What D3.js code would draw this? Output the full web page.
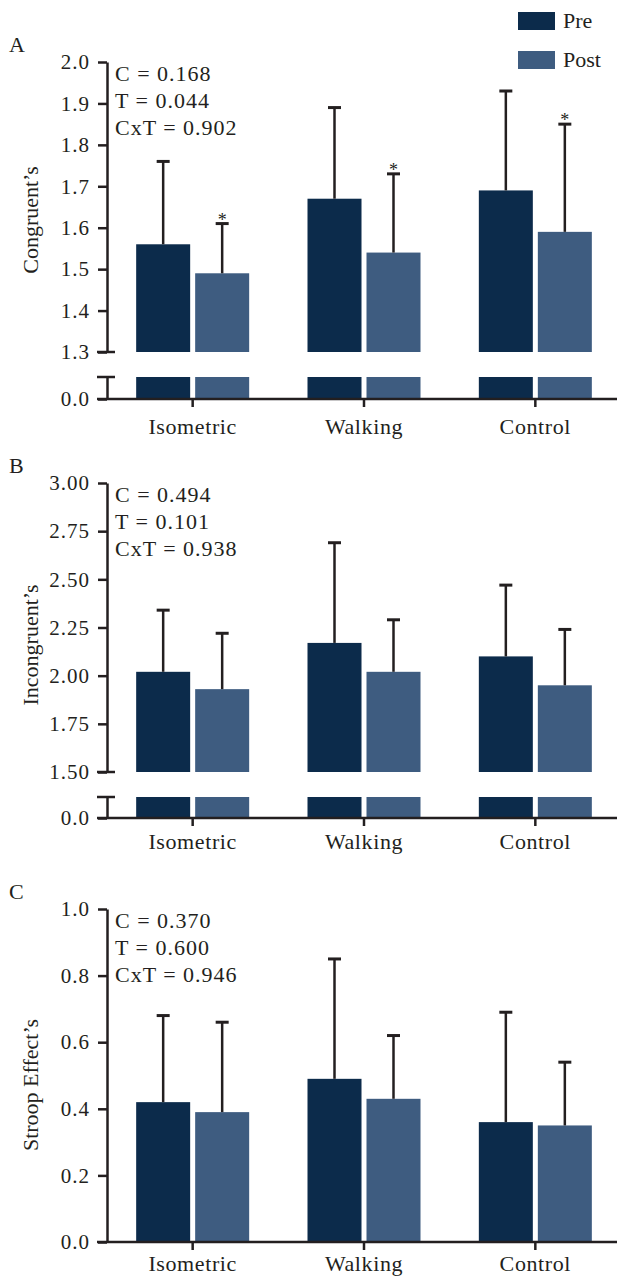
<!DOCTYPE html>
<!-- three stacked bar charts (pre / post) with broken y axes -->
<html>
<head>
<meta charset="utf-8">
<style>
  body { margin: 0; background: #fff; }
  svg text { font-family: "Liberation Serif", "DejaVu Serif", serif; fill: #231f20; }
</style>
</head>
<body>
<div id="chart_div"></div>

<script src="https://d3js.org/d3.v7.min.js"></script>

<script>

// data
let groups = ["Isometric", "Walking", "Control"];
let series = ["Pre", "Post"];
let series_colors = ["#0c2b4b", "#3e5c80"];

let congruent_pre = [1.56, 1.67, 1.69];
let congruent_pre_sd = [0.20, 0.22, 0.24];
let congruent_post = [1.49, 1.54, 1.59];
let congruent_post_sd = [0.12, 0.19, 0.26];
let congruent_stats = ["C = 0.168", "T = 0.044", "CxT = 0.902"];
let congruent_ticks = [1.3, 1.4, 1.5, 1.6, 1.7, 1.8, 1.9, 2.0];

let incongruent_pre = [2.02, 2.17, 2.10];
let incongruent_pre_sd = [0.32, 0.52, 0.37];
let incongruent_post = [1.93, 2.02, 1.95];
let incongruent_post_sd = [0.29, 0.27, 0.29];
let incongruent_stats = ["C = 0.494", "T = 0.101", "CxT = 0.938"];
let incongruent_ticks = [1.50, 1.75, 2.00, 2.25, 2.50, 2.75, 3.00];

let stroop_pre = [0.42, 0.49, 0.36];
let stroop_pre_sd = [0.26, 0.36, 0.33];
let stroop_post = [0.39, 0.43, 0.35];
let stroop_post_sd = [0.27, 0.19, 0.19];
let stroop_stats = ["C = 0.370", "T = 0.600", "CxT = 0.946"];
let stroop_ticks = [0.0, 0.2, 0.4, 0.6, 0.8, 1.0];

// significance markers on post bars (panel A only)
let congruent_post_star = [true, true, true];

let width = 617, height = 1278;
let axis_x = 107;
let ink = "#231f20";

let svg = d3.select("#chart_div")
  .append("svg")
    .attr("width", width)
    .attr("height", height);

// shared x scale
let x = d3.scaleBand()
  .domain(groups)
  .range([axis_x, 621])
  .padding(0);

let bar_w = 54, bar_gap = 5;

function draw_panel(p) {
  let g = svg.append("g").attr("class", "panel");

  let y = d3.scaleLinear()
    .domain([p.ticks[0], p.ticks[p.ticks.length - 1]])
    .range([p.low_y, p.top_y]);

  // rows for bars
  let rows = [];
  groups.forEach(function(name, i) {
    rows.push({group: name, s: 0, v: p.pre[i], sd: p.pre_sd[i], star: false});
    rows.push({group: name, s: 1, v: p.post[i], sd: p.post_sd[i], star: p.post_star ? p.post_star[i] : false});
  });
  let bx = function(d) {
    let c = x(d.group) + x.bandwidth() / 2;
    return d.s == 0 ? c - bar_gap / 2 - bar_w : c + bar_gap / 2;
  };

  // upper bars
  g.selectAll(".bar_up")
    .data(rows)
    .enter()
    .append("rect")
      .attr("x", bx)
      .attr("y", function(d) { return y(d.v); })
      .attr("width", bar_w)
      .attr("height", function(d) { return y(p.ticks[0]) - y(d.v); })
      .attr("fill", function(d) { return series_colors[d.s]; });

  // error bars
  let ex = function(d) { return bx(d) + bar_w / 2; };
  g.selectAll(".err")
    .data(rows)
    .enter()
    .append("line")
      .attr("x1", ex).attr("x2", ex)
      .attr("y1", function(d) { return y(d.v); })
      .attr("y2", function(d) { return y(d.v + d.sd); })
      .attr("stroke", ink).attr("stroke-width", 2.5);
  g.selectAll(".cap")
    .data(rows)
    .enter()
    .append("line")
      .attr("x1", function(d) { return ex(d) - 6.5; })
      .attr("x2", function(d) { return ex(d) + 6.5; })
      .attr("y1", function(d) { return y(d.v + d.sd); })
      .attr("y2", function(d) { return y(d.v + d.sd); })
      .attr("stroke", ink).attr("stroke-width", 3);
  g.selectAll(".star")
    .data(rows.filter(function(d) { return d.star; }))
    .enter()
    .append("text")
      .attr("x", ex)
      .attr("y", function(d) { return y(d.v + d.sd) + 2; })
      .attr("text-anchor", "middle")
      .attr("font-size", 18)
      .text("*");

  // y axis (upper part)
  let y_axis = g.append("g")
    .attr("transform", "translate(" + axis_x + ",0)")
    .call(d3.axisLeft(y).tickValues(p.ticks).tickFormat(d3.format(p.fmt))
      .tickSize(9).tickSizeOuter(0).tickPadding(8));
  y_axis.selectAll(".domain, line").attr("stroke", ink).attr("stroke-width", 2.5);
  y_axis.selectAll("text").attr("font-size", 21).attr("letter-spacing", 1)
    .attr("font-family", "Liberation Serif").attr("fill", ink);

  let zero_y = p.low_y;
  if (p.broken) {
    zero_y = p.zero_y;
    // cap on the upper segment
    g.append("line")
      .attr("x1", axis_x - 10).attr("x2", axis_x + 8)
      .attr("y1", p.low_y).attr("y2", p.low_y)
      .attr("stroke", ink).attr("stroke-width", 2.5);

    // lower segment: just the zero
    let y_low = d3.scaleLinear().domain([0, 1]).range([p.zero_y, p.brk_y]);
    g.selectAll(".bar_low")
      .data(rows)
      .enter()
      .append("rect")
        .attr("x", bx)
        .attr("y", y_low(1))
        .attr("width", bar_w)
        .attr("height", y_low(0) - y_low(1))
        .attr("fill", function(d) { return series_colors[d.s]; });
    let low_axis = g.append("g")
      .attr("transform", "translate(" + axis_x + ",0)")
      .call(d3.axisLeft(y_low).tickValues([0]).tickFormat(d3.format(".1f"))
        .tickSize(9).tickSizeOuter(0).tickPadding(8));
    low_axis.selectAll(".domain, line").attr("stroke", ink).attr("stroke-width", 2.5);
    low_axis.selectAll("text").attr("font-size", 21).attr("letter-spacing", 1)
      .attr("font-family", "Liberation Serif").attr("fill", ink);
    g.append("line")
      .attr("x1", axis_x - 10).attr("x2", axis_x + 8)
      .attr("y1", p.brk_y).attr("y2", p.brk_y)
      .attr("stroke", ink).attr("stroke-width", 2.5);
  }

  // x axis
  let x_axis = g.append("g")
    .attr("transform", "translate(0," + zero_y + ")")
    .call(d3.axisBottom(x).tickSize(8).tickSizeOuter(0).tickPadding(p.x_pad));
  x_axis.select(".domain").remove();
  x_axis.selectAll("line").attr("stroke", ink).attr("stroke-width", 2.5);
  x_axis.selectAll("text").attr("font-size", 22).attr("letter-spacing", 0.6)
    .attr("font-family", "Liberation Serif").attr("fill", ink);
  g.append("line")
    .attr("x1", axis_x - 10).attr("x2", width)
    .attr("y1", zero_y).attr("y2", zero_y)
    .attr("stroke", ink).attr("stroke-width", 2.5);

  // y title
  g.append("text")
    .attr("transform", "translate(38," + p.title_y + ") rotate(-90)")
    .attr("text-anchor", "middle")
    .attr("font-size", 22)
    .text(p.title);

  // panel letter
  g.append("text")
    .attr("x", 9)
    .attr("y", p.top_y - 10)
    .attr("font-size", 22)
    .text(p.letter);

  // stats
  g.selectAll(".stat")
    .data(p.stats)
    .enter()
    .append("text")
      .attr("x", 115)
      .attr("y", function(d, i) { return p.top_y + 19 + i * 27; })
      .attr("font-size", 22)
      .attr("letter-spacing", 1)
      .text(function(d) { return d; });
}

draw_panel({letter: "A", title: "Congruent\u2019s", title_y: 220,
  pre: congruent_pre, pre_sd: congruent_pre_sd, post: congruent_post, post_sd: congruent_post_sd,
  post_star: congruent_post_star, stats: congruent_stats, ticks: congruent_ticks, fmt: ".1f",
  top_y: 62, low_y: 352, broken: true, brk_y: 377, zero_y: 399, x_pad: 11});

draw_panel({letter: "B", title: "Incongruent\u2019s", title_y: 645,
  pre: incongruent_pre, pre_sd: incongruent_pre_sd, post: incongruent_post, post_sd: incongruent_post_sd,
  stats: incongruent_stats, ticks: incongruent_ticks, fmt: ".2f",
  top_y: 483, low_y: 772, broken: true, brk_y: 797, zero_y: 818, x_pad: 7});

draw_panel({letter: "C", title: "Stroop Effect\u2019s", title_y: 1085,
  pre: stroop_pre, pre_sd: stroop_pre_sd, post: stroop_post, post_sd: stroop_post_sd,
  stats: stroop_stats, ticks: stroop_ticks, fmt: ".1f",
  top_y: 909, low_y: 1242, broken: false, x_pad: 5});

// legend
let legend = svg.append("g")
  .attr("transform", "translate(518,12)");
legend.selectAll("rect")
  .data(series)
  .enter()
  .append("rect")
    .attr("x", 0)
    .attr("y", function(d, i) { return i * 39; })
    .attr("width", 37)
    .attr("height", 18)
    .attr("fill", function(d, i) { return series_colors[i]; });
legend.selectAll("text")
  .data(series)
  .enter()
  .append("text")
    .attr("x", 45)
    .attr("y", function(d, i) { return i * 39 + 16; })
    .attr("font-size", 22)
    .text(function(d) { return d; });

</script>
</body>
</html>
